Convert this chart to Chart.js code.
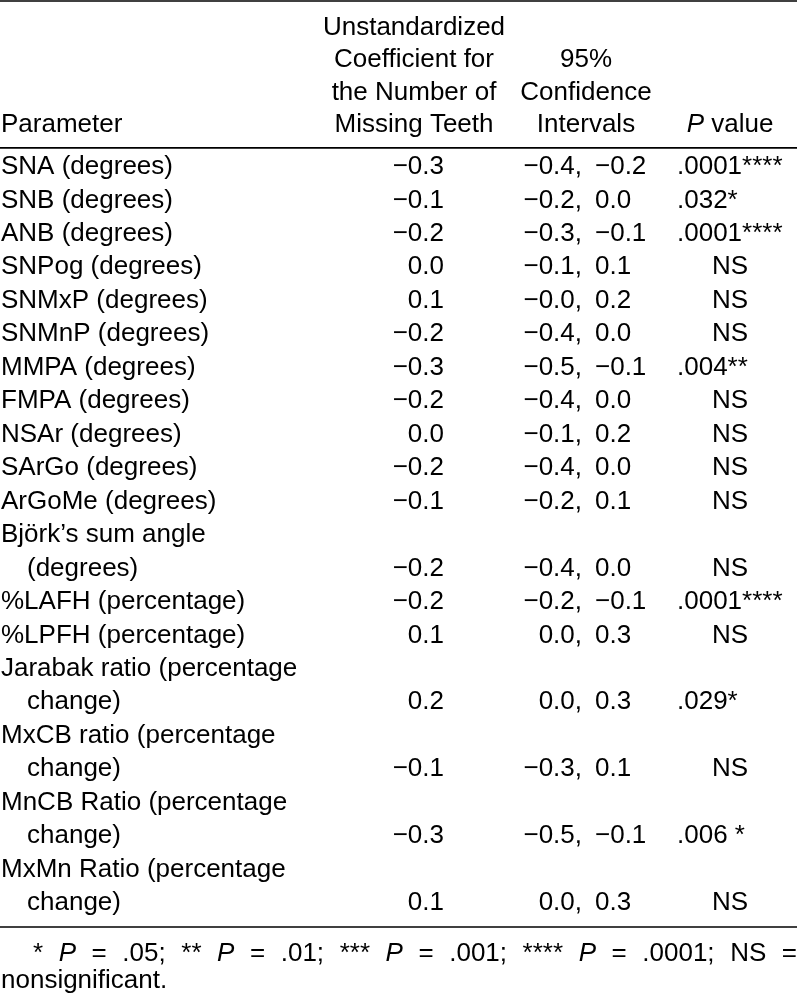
<!DOCTYPE html>
<html>
<head>
<meta charset="utf-8">
<title>Missing teeth – cephalometric regression</title>
<script src="https://cdn.jsdelivr.net/npm/chart.js@4.4.1/dist/chart.umd.min.js"></script>
<style>
  html, body { margin: 0; padding: 0; background: #fff; }
  #table-chart { display: block; }
</style>
</head>
<body>
<canvas id="table-chart" width="797" height="1000"></canvas>
<script>
// table content
const parameters = [
  ['SNA (degrees)'],
  ['SNB (degrees)'],
  ['ANB (degrees)'],
  ['SNPog (degrees)'],
  ['SNMxP (degrees)'],
  ['SNMnP (degrees)'],
  ['MMPA (degrees)'],
  ['FMPA (degrees)'],
  ['NSAr (degrees)'],
  ['SArGo (degrees)'],
  ['ArGoMe (degrees)'],
  ['Björk’s sum angle', '(degrees)'],
  ['%LAFH (percentage)'],
  ['%LPFH (percentage)'],
  ['Jarabak ratio (percentage', 'change)'],
  ['MxCB ratio (percentage', 'change)'],
  ['MnCB Ratio (percentage', 'change)'],
  ['MxMn Ratio (percentage', 'change)'],
];
const coefficients = [-0.3, -0.1, -0.2, 0.0, 0.1, -0.2, -0.3, -0.2, 0.0, -0.2, -0.1, -0.2, -0.2, 0.1, 0.2, -0.1, -0.3, 0.1];
const ciLower = [-0.4, -0.2, -0.3, -0.1, -0.0, -0.4, -0.5, -0.4, -0.1, -0.4, -0.2, -0.4, -0.2, 0.0, 0.0, -0.3, -0.5, 0.0];
const ciUpper = [-0.2, 0.0, -0.1, 0.1, 0.2, 0.0, -0.1, 0.0, 0.2, 0.0, 0.1, 0.0, -0.1, 0.3, 0.3, 0.1, -0.1, 0.3];
const pValues = ['.0001****', '.032*', '.0001****', 'NS', 'NS', 'NS', '.004**', 'NS', 'NS', 'NS', 'NS', 'NS', '.0001****', 'NS', '.029*', 'NS', '.006 *', 'NS'];
const headCoef = ['Unstandardized', 'Coefficient for', 'the Number of', 'Missing Teeth'];
const headCI = ['95%', 'Confidence', 'Intervals'];
const footTokens = [
  ['*'], ['P', 1], ['='], ['.05;'], ['**'], ['P', 1], ['='], ['.01;'], ['***'], ['P', 1], ['='], ['.001;'],
  ['****'], ['P', 1], ['='], ['.0001;'], ['NS'], ['='],
];
const footLast = 'nonsignificant.';

// layout (x in px, y in text-line units)
const FONT = '26px "Liberation Sans", Arial, Helvetica, sans-serif';
const ITALIC = 'italic ' + FONT;
const COL = { param: 1, indent: 27, coef: 444, coefHead: 414, ciSplit: 582, ciRight: 595, ciHead: 586, p: 677, pHead: 730 };
const ROW = { top: -4.96, headLast: -1.25, headStep: 0.97, headRule: -0.57, bottomRule: 22.72, foot1: 23.52, foot2: 24.33 };

const fmt = (v) => ((v < 0 || Object.is(v, -0)) ? '\u2212' : '') + Math.abs(v).toFixed(1);

// line index of the value line for each parameter row
const rowLine = [];
let lineCount = 0;
parameters.forEach((p) => {
  lineCount += p.length;
  rowLine.push(lineCount - 1);
});

const colPoints = (x) => rowLine.map((y) => ({ x, y }));

const tablePlugin = {
  id: 'tableText',
  afterDatasetsDraw(chart) {
    const { ctx, scales } = chart;
    const xs = scales.x;
    const ys = scales.y;
    const px = (v) => xs.getPixelForValue(v);
    const py = (v) => ys.getPixelForValue(v);
    ctx.save();
    ctx.fillStyle = '#000';
    ctx.strokeStyle = '#000';
    ctx.textBaseline = 'middle';
    ctx.font = FONT;

    // rules
    ctx.lineWidth = 1.6;
    [ROW.top, ROW.headRule, ROW.bottomRule].forEach((r) => {
      ctx.beginPath();
      ctx.moveTo(xs.left, py(r));
      ctx.lineTo(xs.right, py(r));
      ctx.stroke();
    });

    // header
    const headY = (i, n) => py(ROW.headLast - (n - 1 - i) * ROW.headStep);
    ctx.textAlign = 'left';
    ctx.fillText('Parameter', px(COL.param), headY(0, 1));
    ctx.textAlign = 'center';
    headCoef.forEach((t, i) => ctx.fillText(t, px(COL.coefHead), headY(i, headCoef.length)));
    headCI.forEach((t, i) => ctx.fillText(t, px(COL.ciHead), headY(i, headCI.length)));
    ctx.textAlign = 'left';
    ctx.font = ITALIC;
    const pw = ctx.measureText('P').width;
    ctx.font = FONT;
    const vw = ctx.measureText(' value').width;
    const pStart = px(COL.pHead) - (pw + vw) / 2;
    ctx.font = ITALIC;
    ctx.fillText('P', pStart, headY(0, 1));
    ctx.font = FONT;
    ctx.fillText(' value', pStart + pw, headY(0, 1));

    // parameter names
    parameters.forEach((lines, i) => {
      lines.forEach((t, j) => {
        const line = rowLine[i] - (lines.length - 1 - j);
        ctx.fillText(t, px(j ? COL.indent : COL.param), py(line));
      });
    });

    // value columns from dataset elements
    const coefMeta = chart.getDatasetMeta(0).data;
    const ciMeta = chart.getDatasetMeta(1).data;
    const pMeta = chart.getDatasetMeta(2).data;
    coefficients.forEach((v, i) => {
      ctx.textAlign = 'right';
      ctx.fillText(fmt(v), coefMeta[i].x, coefMeta[i].y);
      ctx.fillText(fmt(ciLower[i]) + ',', ciMeta[i].x, ciMeta[i].y);
      ctx.textAlign = 'left';
      ctx.fillText(fmt(ciUpper[i]), px(COL.ciRight), ciMeta[i].y);
      const p = pValues[i];
      if (p === 'NS') {
        ctx.textAlign = 'center';
        ctx.fillText(p, px(COL.pHead), pMeta[i].y);
      } else {
        ctx.fillText(p, pMeta[i].x, pMeta[i].y);
      }
    });

    // footnote, first line justified
    ctx.textAlign = 'left';
    const widths = footTokens.map(([t, it]) => {
      ctx.font = it ? ITALIC : FONT;
      return ctx.measureText(t).width;
    });
    const total = widths.reduce((a, b) => a + b, 0);
    const startX = px(33);
    const gap = (xs.right - startX - total) / (footTokens.length - 1);
    let fx = startX;
    footTokens.forEach(([t, it], i) => {
      ctx.font = it ? ITALIC : FONT;
      ctx.fillText(t, fx, py(ROW.foot1));
      fx += widths[i] + gap;
    });
    ctx.font = FONT;
    ctx.fillText(footLast, px(COL.param), py(ROW.foot2));
    ctx.restore();
  },
};

const hidden = { pointRadius: 0, pointHoverRadius: 0, showLine: false };

new Chart(document.getElementById('table-chart'), {
  type: 'scatter',
  data: {
    datasets: [
      { label: 'Coefficient', data: colPoints(COL.coef), ...hidden },
      { label: '95% CI', data: colPoints(COL.ciSplit), ...hidden },
      { label: 'P value', data: colPoints(COL.p), ...hidden },
    ],
  },
  options: {
    responsive: false,
    animation: false,
    layout: { padding: 0 },
    scales: {
      x: { type: 'linear', min: 0, max: 797, display: false },
      y: { type: 'linear', min: -4.99, max: 24.9, reverse: true, display: false },
    },
    plugins: { legend: { display: false }, tooltip: { enabled: false } },
  },
  plugins: [tablePlugin],
});
</script>
</body>
</html>
